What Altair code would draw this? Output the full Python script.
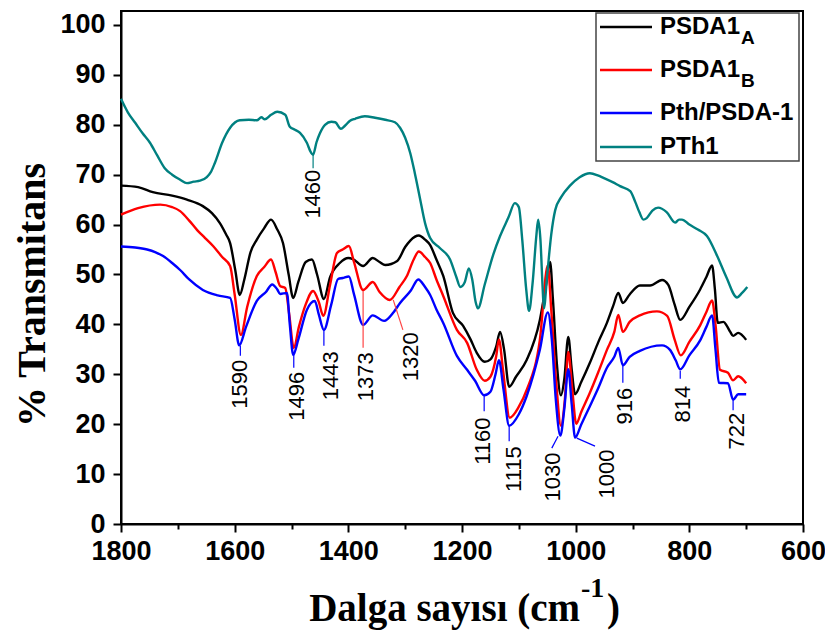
import altair as alt
import pandas as pd

# ---------------- data ----------------
series_names = ["PSDA1_A", "PSDA1_B", "Pth/PSDA-1", "PTh1"]
series_colors = ["#000000", "#ff0000", "#0000ff", "#008080"]

a_w = [1800, 1770, 1744, 1710, 1684, 1656, 1640, 1626, 1615, 1608, 1599, 1591, 1583, 1572, 1561, 1548, 1536, 1525,
       1515, 1505, 1497, 1488, 1475, 1464, 1455, 1443, 1432, 1415, 1400, 1392, 1374, 1357, 1345, 1335, 1314, 1300,
       1291, 1276, 1265, 1256, 1245, 1233, 1216, 1198, 1185, 1174, 1160, 1150, 1140, 1133, 1126, 1117, 1105, 1086,
       1063, 1052, 1045, 1040, 1033, 1026, 1020, 1013, 1007, 1001, 990, 975, 960, 945, 934, 925, 917, 905, 887, 869,
       848, 837, 826, 816, 800, 781, 770, 760, 755, 750, 740, 734, 728, 723, 714, 700]
a_t = [67.8, 67.5, 66.5, 65.8, 65.0, 63.7, 62.3, 60.3, 58.0, 56.3, 50.9, 45.9, 49.0, 54.5, 57.0, 59.3, 61.0, 59.0,
       56.3, 50.0, 45.3, 48.5, 52.5, 53.0, 50.0, 45.1, 49.5, 52.3, 53.3, 53.1, 51.7, 53.3, 52.5, 51.9, 52.7, 55.5,
       56.8, 57.8, 57.0, 55.9, 53.0, 49.7, 42.3, 39.7, 37.0, 34.3, 32.5, 33.0, 35.5, 38.5, 35.0, 27.5, 29.5, 32.9,
       40.9, 48.0, 52.5, 45.0, 32.0, 25.8, 29.0, 37.5, 31.0, 26.0, 28.5, 32.3, 36.5, 40.3, 43.7, 46.3, 44.3, 46.0, 47.8, 47.8,
       48.9, 47.9, 44.0, 40.9, 43.5, 47.0, 49.5, 51.8, 47.0, 40.3, 40.5, 39.7, 38.5, 37.7, 38.3, 36.9]

b_w = [1800, 1770, 1731, 1710, 1696, 1680, 1666, 1652, 1638, 1622, 1608, 1600, 1589, 1578, 1561, 1548, 1536, 1528,
       1520, 1511, 1504, 1496, 1487, 1475, 1462, 1452, 1444, 1432, 1420, 1410, 1399, 1390, 1374, 1357, 1345, 1327,
       1310, 1297, 1285, 1276, 1265, 1256, 1245, 1233, 1209, 1191, 1174, 1160, 1150, 1140, 1135, 1128, 1116, 1100,
       1086, 1063, 1049, 1043, 1034, 1026, 1019, 1013, 1006, 999, 990, 975, 960, 945, 932, 925, 917, 905, 887, 857,
       839, 826, 815, 800, 781, 770, 760, 754, 746, 732, 723, 714, 700]
b_t = [62.0, 63.3, 64.0, 63.5, 62.7, 60.8, 58.9, 57.3, 55.7, 53.5, 51.7, 46.0, 37.9, 43.5, 49.7, 51.5, 53.0, 50.5,
       47.7, 47.3, 42.0, 35.3, 39.5, 44.0, 46.7, 44.5, 41.7, 48.0, 54.3, 55.0, 55.7, 52.5, 46.9, 48.5, 46.5, 44.9,
       47.5, 49.7, 53.0, 54.6, 53.5, 52.3, 49.0, 45.7, 38.9, 36.3, 30.9, 28.7, 29.5, 33.5, 37.0, 31.0, 21.3, 23.5,
       26.9, 36.9, 51.8, 43.0, 28.0, 19.7, 25.0, 34.5, 27.0, 20.1, 22.5, 26.3, 30.5, 34.9, 38.5, 41.9, 38.5, 40.5, 41.8, 42.6,
       41.7, 37.0, 33.8, 36.5, 39.8, 42.5, 44.8, 40.0, 30.9, 30.3, 28.8, 29.6, 28.2]

c_w = [1800, 1775, 1754, 1740, 1726, 1710, 1696, 1680, 1656, 1630, 1608, 1600, 1592, 1580, 1561, 1545, 1534, 1525,
       1520, 1508, 1503, 1497, 1488, 1473, 1459, 1452, 1443, 1430, 1418, 1410, 1399, 1390, 1374, 1357, 1337, 1320,
       1309, 1290, 1277, 1265, 1256, 1245, 1233, 1209, 1191, 1177, 1161, 1150, 1141, 1135, 1127, 1117, 1100, 1086,
       1063, 1049, 1042, 1035, 1027, 1020, 1013, 1007, 1001, 990, 975, 960, 945, 932, 925, 917, 905, 887, 848, 834,
       824, 816, 800, 781, 770, 760, 754, 748, 732, 723, 714, 700]
c_t = [55.6, 55.4, 55.0, 54.5, 53.7, 52.3, 50.9, 49.0, 46.9, 45.8, 45.3, 41.0, 35.8, 39.5, 44.7, 46.5, 48.0, 47.0,
       46.1, 46.3, 40.0, 33.9, 37.0, 42.9, 44.7, 42.0, 38.9, 44.0, 49.1, 49.3, 49.6, 46.0, 39.9, 41.8, 40.7, 42.5,
       44.3, 46.8, 49.0, 47.5, 45.9, 43.0, 40.3, 33.7, 30.9, 28.7, 25.8, 26.5, 30.0, 32.8, 27.0, 19.7, 22.0, 25.7,
       34.9, 42.4, 37.0, 25.0, 17.7, 23.0, 31.0, 24.0, 17.3, 20.0, 23.6, 27.3, 31.3, 33.5, 35.3, 31.8, 33.5, 34.7, 35.8, 34.9,
       32.8, 31.0, 33.8, 36.8, 39.5, 41.8, 35.0, 28.3, 28.2, 24.9, 26.0, 26.0]

d_w = [1800, 1788, 1775, 1762, 1749, 1736, 1723, 1710, 1696, 1684, 1672, 1661, 1649, 1642, 1635, 1622, 1608, 1591,
       1575, 1561, 1553, 1547, 1536, 1525, 1511, 1503, 1494, 1485, 1473, 1466, 1462, 1456, 1450, 1441, 1430, 1423,
       1413, 1406, 1397, 1388, 1371, 1353, 1335, 1318, 1309, 1300, 1291, 1283, 1274, 1265, 1256, 1239, 1221, 1210,
       1203, 1195, 1188, 1182, 1176, 1172, 1160, 1145, 1133, 1118, 1107, 1100, 1094, 1087, 1082, 1076, 1069, 1066,
       1062, 1058, 1056, 1050, 1043, 1036, 1025, 1010, 993, 975, 960, 952, 935, 922, 904, 895, 888, 881, 875, 865,
       855, 840, 825, 818, 813, 800, 785, 769, 751, 735, 716, 708, 698]
d_t = [85.2, 82.5, 80.4, 78.3, 76.4, 73.8, 71.3, 70.0, 69.0, 68.3, 68.6, 68.8, 69.5, 70.5, 72.3, 76.4, 79.4, 80.9,
       81.0, 80.9, 81.5, 81.1, 82.0, 82.6, 82.0, 79.6, 79.0, 78.4, 76.4, 74.5, 74.0, 76.5, 78.3, 80.0, 80.6, 80.5,
       79.2, 79.8, 80.8, 81.2, 81.7, 81.4, 81.0, 80.5, 79.4, 77.4, 74.3, 70.3, 65.3, 60.3, 57.3, 55.3, 53.0, 49.5,
       47.5, 48.5, 51.2, 49.0, 44.5, 43.2, 48.0, 54.0, 57.7, 61.5, 64.3, 63.5, 57.0, 47.0, 42.7, 48.0, 58.0, 61.0,
       57.0, 47.0, 43.2, 50.0, 58.0, 62.9, 65.6, 67.8, 69.5, 70.3, 69.8, 69.4, 68.5, 67.7, 66.7, 64.5, 62.5, 61.0, 61.3, 62.8,
       63.4, 62.5, 60.4, 61.0, 61.0, 60.0, 59.0, 57.7, 53.7, 49.5, 45.4, 46.2, 47.5]

# peak annotations (label, label position, leader line)
ann_label = ["1460", "1590", "1496", "1443", "1373", "1320", "1160", "1115", "1030", "1000", "916", "814", "722"]
ann_x = [1462, 1591, 1490, 1430, 1369, 1290, 1163, 1108, 1040, 945, 913, 811, 716]
ann_y = [66.1, 28.0, 25.6, 29.7, 29.5, 33.5, 16.6, 11.0, 9.4, 10.0, 23.6, 24.0, 18.6]
lead_x1 = [1462, 1590, 1496, 1443, 1374, 1321, 1161, 1117, 1031, 998, 917, 816, 723]
lead_y1 = [74.3, 35.7, 33.9, 38.9, 46.7, 44.9, 25.7, 19.6, 17.6, 17.2, 31.7, 30.7, 24.8]
lead_x2 = [1462, 1590, 1496, 1443, 1374, 1304, 1161, 1117, 1042, 966, 917, 816, 723]
lead_y2 = [71.3, 33.7, 31.3, 35.7, 35.3, 38.9, 22.6, 16.6, 15.2, 15.6, 28.3, 29.1, 22.8]
lead_color = ["#008080", "#0000ff", "#0000ff", "#0000ff", "#ff4444", "#ff4444", "#0000ff", "#0000ff",
              "#0000ff", "#0000ff", "#0000ff", "#0000ff", "#0000ff"]

legend_main = ["PSDA1", "PSDA1", "Pth/PSDA-1", "PTh1"]
legend_sub = ["A", "B", "", ""]

x_ticks = list(range(600, 1801, 100))
y_ticks = list(range(0, 101, 5))

# ---------------- build ----------------
rows = []
for name, ws, ts in zip(series_names, [a_w, b_w, c_w, d_w], [a_t, b_t, c_t, d_t]):
    for w, t in zip(ws, ts):
        rows.append({"s": name, "w": w, "t": t})
df = pd.DataFrame(rows)

ann_df = pd.DataFrame({"label": ann_label, "x": ann_x, "y": ann_y})
lead_df = pd.DataFrame({"x1": lead_x1, "y1": lead_y1, "x2": lead_x2, "y2": lead_y2, "c": lead_color})
one = pd.DataFrame({"k": [0]})

TOP = 3
W, H = 682, 513
xs = alt.Scale(domain=[600, 1800], reverse=True, nice=False, zero=False)
ys = alt.Scale(domain=[0, 102.8], nice=False, zero=False)

axis_common = dict(
    grid=False, title=None, format="d", labelOverlap=False, labelFlush=False,
    tickWidth=2, tickColor="black", domainColor="black", domainWidth=2,
    labelFont="Liberation Sans", labelFontWeight="bold", labelFontSize=27, labelColor="black",
)

x_axis = alt.Axis(values=x_ticks, labelExpr="datum.value % 200 === 0 ? datum.label : ''",
                  tickSize={"condition": {"test": "datum.value % 200 === 0", "value": 8}, "value": 5},
                  labelPadding=6, **axis_common)
y_axis = alt.Axis(values=y_ticks, labelExpr="datum.value % 10 === 0 ? datum.label : ''",
                  tickSize={"condition": {"test": "datum.value % 10 === 0", "value": 8}, "value": 5},
                  labelPadding=8, **axis_common)

lines = alt.Chart(df).mark_line(strokeWidth=2.4, interpolate="monotone").encode(
    x=alt.X("w:Q", scale=xs, axis=x_axis),
    y=alt.Y("t:Q", scale=ys, axis=y_axis),
    color=alt.Color("s:N", scale=alt.Scale(domain=series_names, range=series_colors), legend=None),
)

leaders = alt.Chart(lead_df).mark_rule(strokeWidth=1.2).encode(
    x=alt.X("x1:Q", scale=xs), y=alt.Y("y1:Q", scale=ys),
    x2="x2:Q", y2="y2:Q",
    color=alt.Color("c:N", scale=None),
)

labels = alt.Chart(ann_df).mark_text(angle=270, align="center", baseline="middle",
                                     font="Liberation Sans", fontSize=22, color="black").encode(
    x=alt.X("x:Q", scale=xs), y=alt.Y("y:Q", scale=ys), text="label:N")

layers = [lines, leaders, labels]

# legend (drawn manually because of the subscripts); positions in plot pixels
layers.append(alt.Chart(one).mark_rect(fill="white", stroke="#444444", strokeWidth=1.5).encode(
    x=alt.value(475), x2=alt.value(678), y=alt.value(2), y2=alt.value(150)))
row_y = [16, 59, 102, 136]
for name, main, sub, col, ry in zip(series_names, legend_main, legend_sub, series_colors, row_y):
    layers.append(alt.Chart(one).mark_rule(strokeWidth=2.5, color=col).encode(
        x=alt.value(479), x2=alt.value(531), y=alt.value(ry), y2=alt.value(ry)))
    layers.append(alt.Chart(one).mark_text(align="left", baseline="middle", font="Liberation Sans",
                                           fontWeight="bold", fontSize=24, color="black").encode(
        x=alt.value(539), y=alt.value(ry), text=alt.value(main)))
    if sub:
        layers.append(alt.Chart(one).mark_text(align="left", baseline="middle", font="Liberation Sans",
                                               fontWeight="bold", fontSize=19, color="black").encode(
            x=alt.value(620), y=alt.value(ry + 11), text=alt.value(sub)))

# axis titles
layers.append(alt.Chart(one).mark_text(angle=270, align="center", baseline="middle", font="Liberation Serif",
                                       fontWeight="bold", fontSize=40, color="black").encode(
    x=alt.value(-88), y=alt.value(284), text=alt.value("% Transmitans")))
layers.append(alt.Chart(one).mark_text(align="right", baseline="alphabetic", font="Liberation Serif",
                                       fontWeight="bold", fontSize=39, color="black").encode(
    x=alt.value(459), y=alt.value(610), text=alt.value("Dalga sayısı (cm")))
layers.append(alt.Chart(one).mark_text(align="left", baseline="alphabetic", font="Liberation Serif",
                                       fontWeight="bold", fontSize=28, color="black").encode(
    x=alt.value(460), y=alt.value(586), text=alt.value("-1")))
layers.append(alt.Chart(one).mark_text(align="left", baseline="alphabetic", font="Liberation Serif",
                                       fontWeight="bold", fontSize=39, color="black").encode(
    x=alt.value(486), y=alt.value(610), text=alt.value(")")))

chart = alt.layer(*layers).properties(
    width=W, height=H,
    autosize=alt.AutoSizeParams(type="none"),
    padding={"left": 113, "top": TOP, "right": 22, "bottom": 108},
).configure_view(stroke="black", strokeWidth=2)

chart.save("out.html", embed_options={"renderer": "svg", "actions": False})
